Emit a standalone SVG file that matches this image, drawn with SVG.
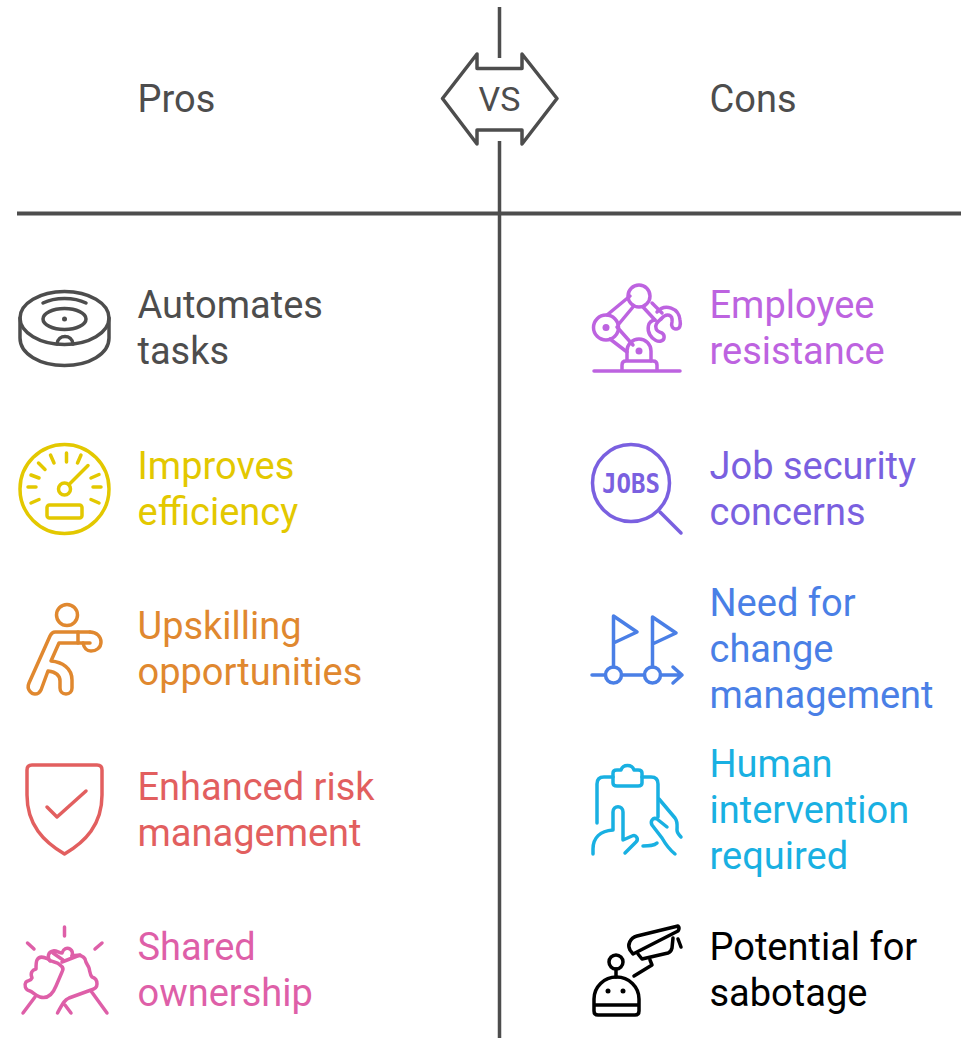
<svg xmlns="http://www.w3.org/2000/svg" width="961" height="1038" viewBox="0 0 961 1038">
<style>
text{font-family:Roboto,"Liberation Sans",sans-serif;font-size:38px}
.i{fill:none;stroke-width:3.500;stroke-linecap:round;stroke-linejoin:round;stroke:currentColor}
.gr{color:#4d4d4d}.ye{color:#e3c800}.or{color:#e0882f}.re{color:#e25f5f}.pi{color:#de5fa8}
.pu{color:#bd63e0}.vi{color:#7a60e0}.bl{color:#4a7fe6}.cy{color:#19b0e2}.bk{color:#000}
g>text{fill:currentColor}
</style>
<rect width="961" height="1038" fill="#fff"/>
<g id="connectors" fill="none" stroke="#4d4d4d">
<path d="M499.500 7V58M499.500 141V1038" stroke-width="3.500"/>
<path d="M17 213.500H961" stroke-width="4"/>
</g>
<g id="vs" class="gr">
<path d="M442.500 98.500L477 54V68.500H522V54L557 98.500L522 144V130H477V144Z" fill="none" stroke="#4d4d4d" stroke-width="3.500" stroke-linejoin="round"/>
<text x="499.500" y="111" text-anchor="middle" style="font-size:34px">VS</text>
</g>
<g id="pros" class="gr"><text x="137.500" y="112">Pros</text></g>
<g id="cons" class="gr"><text x="709.500" y="112">Cons</text></g>

<g id="automates" class="gr">
<g class="i">
<ellipse cx="64.500" cy="318" rx="44.500" ry="26.500"/>
<path d="M20 318V338C20 354 40 365.500 64.500 365.500S109 354 109 338V318"/>
<ellipse cx="64.500" cy="319" rx="21.500" ry="10.500"/>
<path d="M43 303C55 297 74 297 86 303M57 344C58 334 72 334 73 344"/>
</g>
<circle cx="64.500" cy="319" r="2.500" fill="currentColor"/>
<text x="137.500" y="318">Automates</text><text x="137.500" y="364">tasks</text>
</g>

<g id="improves" class="ye">
<g class="i">
<circle cx="64.500" cy="489" r="44.500"/>
<circle cx="64.500" cy="489" r="6"/>
<path d="M69 484.500L88 465.500"/>
<rect x="47" y="505" width="35" height="13" rx="2.500"/>
<path d="M28 487H36M93 487H101M31 475L39 478M38.500 463L45 469.500M50.500 455L54 463M66.500 453V462M81 455L77.500 463M91 478L99 474.500M31 503L39 499.500M91 499.500L99 503"/>
</g>
<text x="137.500" y="479">Improves</text><text x="137.500" y="525">efficiency</text>
</g>

<g id="upskilling" class="or">
<g class="i">
<circle cx="67" cy="615" r="10.500"/>
<path d="M90 632H55Q52 632 50 636L29 683C26 690 32 694 35 694C38 694 40 692 41 690L48 671C56 672 60 675 60 681V688C60 691 62 694 66 694S72 691 72 688V680C72 668 62 662 51 661L59 643H90"/>
<path d="M90 632C97 632 101 637 101 642C101 648 96 651 91 651C87 651 84 648 83 643M78 632V643"/>
</g>
<text x="137.500" y="639">Upskilling</text><text x="137.500" y="685">opportunities</text>
</g>

<g id="risk" class="re">
<g class="i">
<path d="M32 765H97Q102 765 102 770V795C102 825 85 842 64.500 854C44 842 27 825 27 795V770Q27 765 32 765Z"/>
<path d="M47 807L57 817L86 791"/>
</g>
<text x="137.500" y="800">Enhanced risk</text><text x="137.500" y="846">management</text>
</g>

<g id="shared" class="pi">
<g class="i">
<path d="M64.500 927V936M27.500 943L34 949M102 943L95 949"/>
<path d="M37 960C39 956 44 957 48 959C52 963 57 961 60 965C63 967 64 969 62 972L56 986C52 996 47 999 40 997C36 996 33 992 30 991C25 990 24 985 26 982C28 980 31 981 32 978C30 973 32 970 36 969C36 965 36 962 37 960Z"/>
<path d="M50 961C47 957 48 952 53 951C56 950 59 953 62 953C63 949 67 947 70 949C73 951 73 953 72 956M53 953L63 960M62 962L80 955"/>
<path d="M72 956C76 955 82 954 85 959C86 964 88 965 89 968C90 972 90 975 92 977C96 978 97 981 97 984C97 987 95 989 91 990L69 998C64 1000 62 1005 57.500 1013M65 1005L71 1013M91 991L107 1013M35 997L23 1013"/>
</g>
<text x="137.500" y="960">Shared</text><text x="137.500" y="1006">ownership</text>
</g>

<g id="resistance" class="pu">
<g class="i">
<circle cx="639" cy="296" r="11"/>
<circle cx="606" cy="327.500" r="12.500"/>
<path d="M607 315L630 296M618 325L633 307M610 339L627 352M617 327L633 345M652 303L662 313M643 307L655 320"/>
<path d="M627 360V351A12 12 0 0 1 651 351V361"/>
<path d="M622 371V365Q622 361 626 361H653Q657 361 657 365V371M594 371H680"/>
<path d="M657 312C665 303 679 308 680 320C681 325 680 329 676 329C672 329 671 325 672 322C673 315 667 312 661 319"/>
<path d="M655 320C647 321 647 330 650 335C653 340 658 342 661 341C665 340 665 335 662 333C659 332 656 331 656 328C655 325 657 322 661 319"/>
</g>
<circle cx="606" cy="327.500" r="3.500" fill="currentColor"/>
<circle cx="639" cy="351" r="3.500" fill="currentColor"/>
<text x="709.500" y="318">Employee</text><text x="709.500" y="364">resistance</text>
</g>

<g id="jobsec" class="vi">
<g class="i">
<circle cx="631" cy="483" r="38.500"/>
<path d="M660 512L681 533"/>
</g>
<text x="631" y="492.500" text-anchor="middle" textLength="58" lengthAdjust="spacingAndGlyphs" style="font-family:'DejaVu Sans Mono',monospace;font-size:26px;font-weight:700">JOBS</text>
<text x="709.500" y="479">Job security</text><text x="709.500" y="525">concerns</text>
</g>

<g id="change" class="bl">
<g class="i">
<path d="M592 675H605M621.500 675H644.500M660.500 675H682M673 667L682 675L673 683"/>
<path d="M613.500 667V616L637 632L613.500 643M652.500 667V617L676 633L652.500 644"/>
<circle cx="613.500" cy="675" r="8"/>
<circle cx="652.500" cy="675" r="8"/>
</g>
<text x="709.500" y="616">Need for</text><text x="709.500" y="662">change</text><text x="709.500" y="708">management</text>
</g>

<g id="human" class="cy">
<g class="i">
<path d="M597 823V784Q597 777 604 777H613M642 777H651Q658 777 658 784V817"/>
<path d="M613 773Q613 770 617 770H621C623 764 632 764 634 770H638Q642 770 642 773V783Q642 786 638 786H617Q613 786 613 783Z"/>
<path d="M593 854V849C593 838 600 831 613 830V812C613 805 623 805 623 812V840L632 836C636 834 639 839 636 842L625 853"/>
<path d="M659 799L675 818C678 822 677 826 677 830C677 833 679 835 681 837"/>
<path d="M667 827L657 819C653 817 650 821 652 825L662 838C666 845 670 850 675 854"/>
<path d="M643 846C649 846 654 846 657 843"/>
</g>
<text x="709.500" y="777">Human</text><text x="709.500" y="823">intervention</text><text x="709.500" y="869">required</text>
</g>

<g id="sabotage" class="bk">
<g class="i">
<circle cx="616" cy="962" r="7"/>
<path d="M616 969V977"/>
<path d="M594 1005V999A22.500 22 0 0 1 639 999V1011Q639 1015 635 1015H598Q594 1015 594 1011ZM594 1005H639"/>
<path d="M633 954L678 931Q680 928 678 926L637 936C630 938 627 945 630 950Z"/>
<path d="M638 954L642 959L668 953Q671 952 672 948L673 938M678 939L681 947M650 960L652 965L634 976"/>
</g>
<circle cx="608" cy="991" r="2.500" fill="currentColor"/>
<circle cx="623" cy="991" r="2.500" fill="currentColor"/>
<text x="709.500" y="960">Potential for</text><text x="709.500" y="1006">sabotage</text>
</g>
</svg>
